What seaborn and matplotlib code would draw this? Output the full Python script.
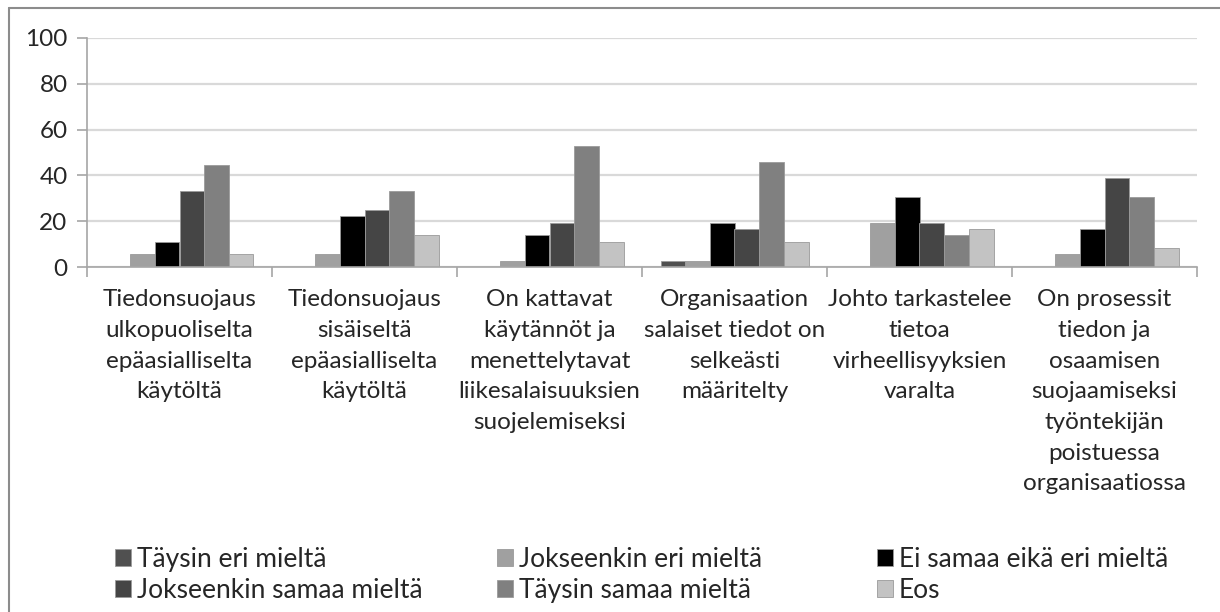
import numpy as np
import pandas as pd
import matplotlib
matplotlib.use("Agg")
import matplotlib.pyplot as plt
import seaborn as sns
from matplotlib.lines import Line2D

# ---------------------------------------------------------------------------
# data (percent of respondents)
# ---------------------------------------------------------------------------
categories = [
    "Tiedonsuojaus\nulkopuoliselta\nepäasialliselta\nkäytöltä",
    "Tiedonsuojaus\nsisäiseltä\nepäasialliselta\nkäytöltä",
    "On kattavat\nkäytännöt ja\nmenettelytavat\nliikesalaisuuksien\nsuojelemiseksi",
    "Organisaation\nsalaiset tiedot on\nselkeästi\nmääritelty",
    "Johto tarkastelee\ntietoa\nvirheellisyyksien\nvaralta",
    "On prosessit\ntiedon ja\nosaamisen\nsuojaamiseksi\ntyöntekijän\npoistuessa\norganisaatiossa",
]
series = ["Täysin eri mieltä", "Jokseenkin eri mieltä", "Ei samaa eikä eri mieltä",
          "Jokseenkin samaa mieltä", "Täysin samaa mieltä", "Eos"]

taysin_eri      = [0.0, 0.0, 0.0, 2.8, 0.0, 0.0]
jokseenkin_eri  = [5.6, 5.6, 2.8, 2.8, 19.4, 5.6]
ei_samaa_eika   = [11.1, 22.2, 13.9, 19.4, 30.6, 16.7]
jokseenkin_sama = [33.3, 25.0, 19.4, 16.7, 19.4, 38.9]
taysin_sama     = [44.4, 33.3, 52.8, 45.8, 13.9, 30.6]
eos             = [5.6, 13.9, 11.1, 11.1, 16.7, 8.3]

colors = ["#505050", "#a0a0a0", "#000000", "#454545", "#808080", "#c3c3c3"]

values = [taysin_eri, jokseenkin_eri, ei_samaa_eika, jokseenkin_sama, taysin_sama, eos]
df = pd.DataFrame([
    {"kategoria": c, "vastaus": s, "osuus": v[i]}
    for s, v in zip(series, values)
    for i, c in enumerate(categories)
])

# ---------------------------------------------------------------------------
# plot
# ---------------------------------------------------------------------------
sns.set_theme(style="white")
plt.rcParams["font.family"] = ["Lato", "DejaVu Sans"]

W, H = 1220, 612
fig = plt.figure(figsize=(W / 100, H / 100), dpi=100)
ax = fig.add_axes([87 / W, 1 - 267 / H, (1197 - 87) / W, (267 - 38) / H])

sns.barplot(data=df, x="kategoria", y="osuus", hue="vastaus", order=categories,
            hue_order=series, palette=colors, width=0.8, edgecolor="#9a9a9a",
            linewidth=0.6, saturation=1, ax=ax, legend=True)

ax.set_ylim(0, 100)
ax.set_xlim(-0.5, len(categories) - 0.5)
ax.set_yticks(range(0, 101, 20))
ax.yaxis.grid(True, color="#d9d9d9", lw=1.6)
ax.set_axisbelow(True)
ax.set_xlabel("")
ax.set_ylabel("")

for side in ["top", "right"]:
    ax.spines[side].set_visible(False)
for side in ["left", "bottom"]:
    ax.spines[side].set_color("#a6a6a6")
    ax.spines[side].set_linewidth(1.2)

txt = "#262626"
ax.tick_params(axis="y", length=7, width=1.2, color="#a6a6a6", labelsize=17.5,
               labelcolor=txt, pad=7, left=True)
ax.set_xticks(range(len(categories)))
ax.set_xticklabels(categories, fontsize=17.5, color=txt, linespacing=1.57, va="top")
ax.tick_params(axis="x", length=0, pad=16)
ax.set_xticks(np.arange(-0.5, len(categories)), minor=True)
ax.tick_params(axis="x", which="minor", length=7, width=1.2, color="#a6a6a6",
               bottom=True)

# legend: three columns filled row by row, one small legend per column
handles, labels = ax.get_legend_handles_labels()
ax.get_legend().remove()
col_x = [115, 497, 877]
for k, x0 in enumerate(col_x):
    idx = [k, k + 3]
    fig.legend([handles[i] for i in idx], [labels[i] for i in idx],
               loc="upper left", bbox_to_anchor=(x0 / W, 1 - 547 / H),
               ncol=1, frameon=False, fontsize=19, handlelength=0.62,
               handleheight=0.62, handletextpad=0.2, labelspacing=0.22,
               borderpad=0, borderaxespad=0, labelcolor=txt)

# chart-area border (left and top edges visible)
fig.add_artist(Line2D([9 / W, 9 / W], [0, 1 - 8 / H], color="#8c8c8c", lw=1.5))
fig.add_artist(Line2D([9 / W, 1], [1 - 8 / H, 1 - 8 / H], color="#8c8c8c", lw=1.5))

fig.savefig("out.png", dpi=100)
